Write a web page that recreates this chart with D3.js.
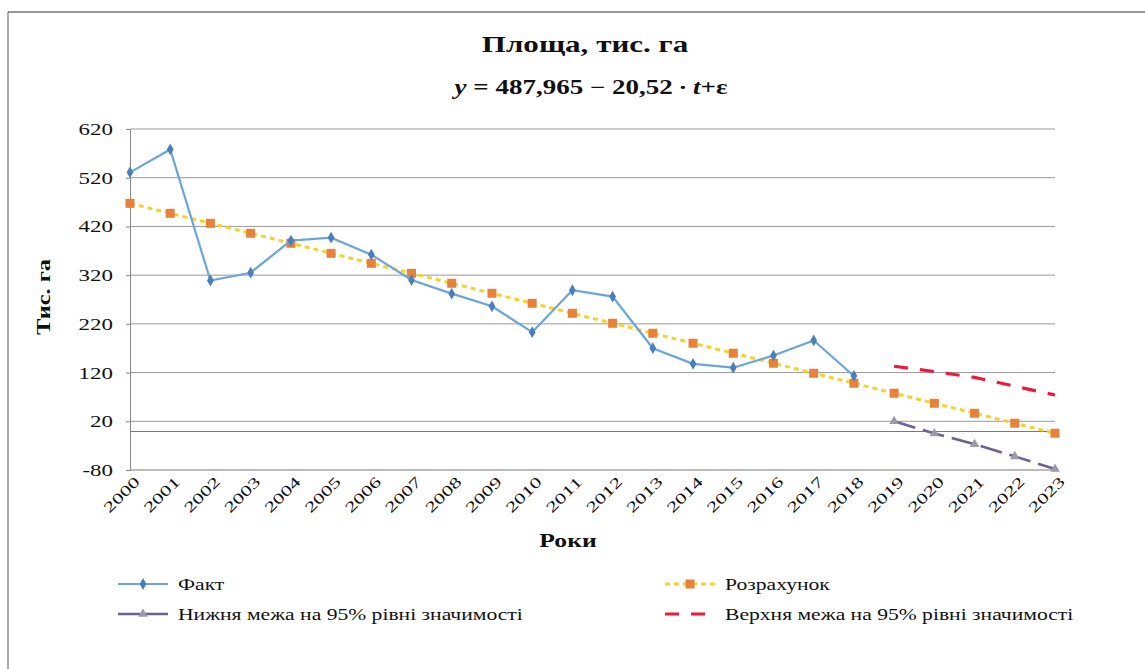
<!DOCTYPE html>
<html>
<head>
<meta charset="utf-8">
<script src="https://cdn.jsdelivr.net/npm/d3@7"></script>
<style>
  body { margin: 0; background: #fff; }
  text { font-family: "Liberation Serif", "Times New Roman", serif; fill: #111; }
</style>
</head>
<body>
<svg id="chart" width="1145" height="669"></svg>
<script>
let years = ["2000","2001","2002","2003","2004","2005","2006","2007","2008","2009","2010","2011",
             "2012","2013","2014","2015","2016","2017","2018","2019","2020","2021","2022","2023"]
let fact = [531, 578, 309, 325, 391, 397, 362, 310, 282, 256, 203, 289, 276, 170, 138, 130, 155, 186, 113]
let calc = [467.4, 446.9, 426.4, 405.9, 385.4, 364.8, 344.3, 323.8, 303.3, 282.8, 262.2, 241.7,
            221.2, 200.7, 180.2, 159.7, 139.1, 118.6, 98.1, 77.6, 57.0, 36.5, 16.0, -4.5]
let forecast_years = ["2019","2020","2021","2022","2023"]
let lower = [20, -5, -27, -52, -78]
let upper = [133, 122, 110, 92, 74]
let y_ticks = [620, 520, 420, 320, 220, 120, 20, -80]

let width = 1145, height = 669
let margins = {left: 130, right: 90, top: 129, bottom: 199}
let stretch = 1.35   // the scanned chart text is wide
let svg = d3.select("#chart")

// frame of the chart area
svg.append("line").attr("x1", 8).attr("x2", 1145).attr("y1", 12).attr("y2", 12)
  .attr("stroke", "#333").attr("stroke-width", 1.2)
svg.append("line").attr("x1", 8).attr("x2", 8).attr("y1", 12).attr("y2", 669)
  .attr("stroke", "#555").attr("stroke-width", 1)

let x = d3.scalePoint().domain(years).range([margins.left, width - margins.right])
let y = d3.scaleLinear().domain([-80, 620]).range([height - margins.bottom, margins.top])

// grid
svg.append("g").selectAll("line").data(y_ticks).enter().append("line")
  .attr("x1", margins.left).attr("x2", width - margins.right)
  .attr("y1", d => y(d)).attr("y2", d => y(d))
  .attr("stroke", d => d == -80 ? "#777" : "#999").attr("stroke-width", 1)

// y axis
let y_axis = svg.append("g").attr("transform", `translate(${margins.left},0)`)
  .call(d3.axisLeft(y).tickValues(y_ticks).tickSize(4).tickFormat(d => String(d)))
y_axis.select(".domain").attr("stroke", "#888")
y_axis.selectAll(".tick line").attr("stroke", "#888")
y_axis.selectAll("text")
  .attr("x", 0).attr("transform", `translate(-17,0) scale(${stretch},1)`)
  .style("font-family", "Liberation Serif").style("font-size", "17px").attr("fill", "#111")

// x axis at zero
let x_axis = svg.append("g").attr("transform", `translate(0,${y(0)})`)
  .call(d3.axisBottom(x).tickSize(0).tickFormat(""))
x_axis.select(".domain").attr("stroke", "#777")

svg.append("g").selectAll("text").data(years).enter().append("text")
  .attr("transform", d => `translate(${x(d) + 7},${y(-80) + 9}) rotate(-45)`)
  .attr("text-anchor", "end").attr("dy", "0.35em")
  .attr("textLength", 44).attr("lengthAdjust", "spacingAndGlyphs")
  .style("font-size", "15px")
  .text(d => d)

// lines
let line = d3.line().x(d => x(d[0])).y(d => y(d[1]))
let fact_pts = fact.map((v, i) => [years[i], v])
let calc_pts = calc.map((v, i) => [years[i], v])
let lower_pts = lower.map((v, i) => [forecast_years[i], v])
let upper_pts = upper.map((v, i) => [forecast_years[i], v])

svg.append("path").attr("d", line(calc_pts)).attr("fill", "none")
  .attr("stroke", "#f7d22a").attr("stroke-width", 3).attr("stroke-dasharray", "5,4")
svg.append("g").selectAll("rect").data(calc_pts).enter().append("rect")
  .attr("x", d => x(d[0]) - 4.5).attr("y", d => y(d[1]) - 4.5)
  .attr("width", 9).attr("height", 9).attr("fill", "#e8823a")

svg.append("path").attr("d", line(fact_pts)).attr("fill", "none")
  .attr("stroke", "#6aa5dc").attr("stroke-width", 2.2)
let diamond = d3.symbol().type(d3.symbolDiamond).size(40)
svg.append("g").selectAll("path").data(fact_pts).enter().append("path")
  .attr("d", diamond).attr("transform", d => `translate(${x(d[0])},${y(d[1])})`)
  .attr("fill", "#4a7fb8")

svg.append("path").attr("d", line(lower_pts)).attr("fill", "none")
  .attr("stroke", "#6e5f94").attr("stroke-width", 2.6).attr("stroke-dasharray", "22,8")
let triangle = d3.symbol().type(d3.symbolTriangle).size(40)
svg.append("g").selectAll("path").data(lower_pts).enter().append("path")
  .attr("d", triangle).attr("transform", d => `translate(${x(d[0])},${y(d[1])})`)
  .attr("fill", "#9a9aa8")

svg.append("path").attr("d", line(upper_pts)).attr("fill", "none")
  .attr("stroke", "#f0163c").attr("stroke-width", 3.2).attr("stroke-dasharray", "14,12")

// titles
function wide_text(cx, cy, size, anchor) {
  return svg.append("text")
    .attr("transform", `translate(${cx},${cy}) scale(${stretch},1)`)
    .attr("text-anchor", anchor || "middle")
    .style("font-size", size + "px")
}
wide_text(585, 52, 23).style("font-weight", "bold").text("Площа, тис. га")
let eq = wide_text(591, 94, 20).style("font-weight", "bold")
eq.append("tspan").style("font-style", "italic").text("y")
eq.append("tspan").text(" = 487,965 − 20,52 ∙ ")
eq.append("tspan").style("font-style", "italic").text("t")
eq.append("tspan").text("+ε")

svg.append("text").attr("transform", "translate(50,297) rotate(-90)").attr("text-anchor", "middle")
  .attr("textLength", 76).attr("lengthAdjust", "spacingAndGlyphs")
  .style("font-size", "19px").style("font-weight", "bold").text("Тис. га")
wide_text(568, 547, 19).style("font-weight", "bold").text("Роки")

// legend
let legend_items = [
  {label: "Факт", x: 118, y: 584, color: "#6aa5dc", width: 2.2, dash: null, mark: "diamond"},
  {label: "Нижня межа на 95% рівні значимості", x: 118, y: 614, color: "#6e5f94", width: 2.6, dash: null, mark: "triangle"},
  {label: "Розрахунок", x: 665, y: 584, color: "#f7d22a", width: 3, dash: "5,4", mark: "square"},
  {label: "Верхня межа на 95% рівні значимості", x: 665, y: 614, color: "#f0163c", width: 3.2, dash: "14,12", mark: null}
]
legend_items.forEach(item => {
  let g = svg.append("g").attr("transform", `translate(${item.x},${item.y})`)
  g.append("line").attr("x1", 0).attr("x2", 50)
    .attr("stroke", item.color).attr("stroke-width", item.width).attr("stroke-dasharray", item.dash)
  if (item.mark == "diamond")
    g.append("path").attr("d", diamond).attr("transform", "translate(25,0)").attr("fill", "#4a7fb8")
  if (item.mark == "triangle")
    g.append("path").attr("d", triangle).attr("transform", "translate(25,0)").attr("fill", "#9a9aa8")
  if (item.mark == "square")
    g.append("rect").attr("x", 20.5).attr("y", -4.5).attr("width", 9).attr("height", 9).attr("fill", "#e8823a")
  g.append("text").attr("transform", `translate(60,0) scale(${stretch},1)`)
    .attr("dy", "0.35em").style("font-size", "16px").text(item.label)
})
</script>
</body>
</html>
